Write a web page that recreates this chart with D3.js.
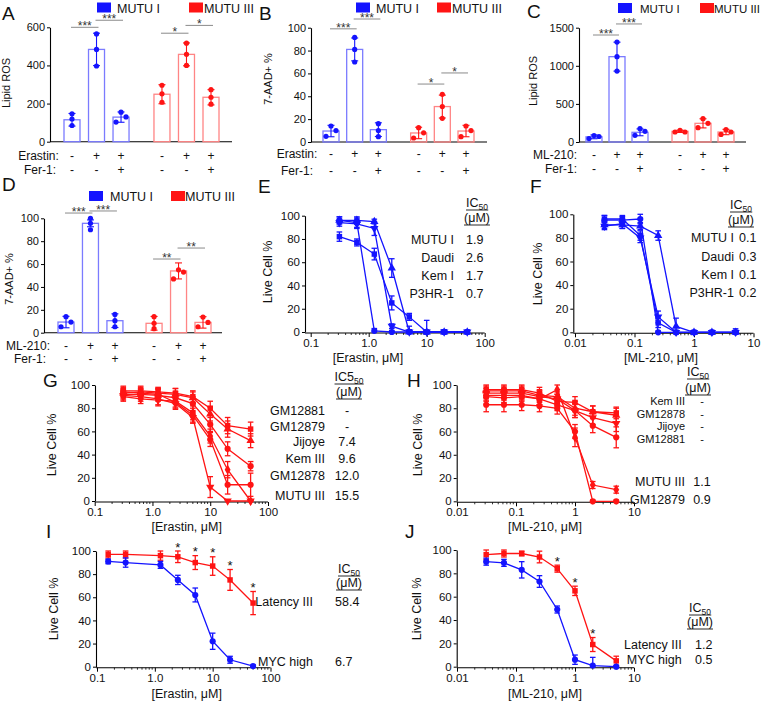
<!DOCTYPE html>
<html><head><meta charset="utf-8">
<script src="https://cdn.jsdelivr.net/npm/d3@7/dist/d3.min.js"></script>
<style>html,body{margin:0;padding:0;background:#fff;} svg{display:block}</style>
</head><body>
<svg id="fig" width="761" height="704"></svg>
<script>
// ---------------- DATA ----------------
const groups = ["MUTU I", "MUTU III"];
const drugSign = ["-", "+", "+", "-", "+", "+"];
const ferSign = ["-", "-", "+", "-", "-", "+"];

// A: Lipid ROS, Erastin
const aMean = [115, 484, 129, 249, 458, 233];
const aErr = [33, 85, 27, 50, 60, 40];
const aPts = [[146,119,85],[565,484,397],[155,130,103],[296,251,207],[517,458,400],[273,233,197]];
const aSig = [[0,1,"***",600],[1,2,"***",637],[3,4,"*",569],[4,5,"*",610]];
const aTicks = [0,200,400,600];
// B: 7-AAD+ %, Erastin
const bMean = [9.6, 81, 10.8, 7.9, 31, 9.6];
const bErr = [5, 10, 6, 5, 10, 5];
const bPts = [[14,10,5],[91.5,81,70],[16,10,4.7],[12.5,8,3.5],[41.7,31,20.7],[14,10,4.7]];
const bSig = [[0,1,"***",99],[1,2,"***",107.6],[3,4,"*",50.7],[4,5,"*",60.4]];
const pctTicks = [0,20,40,60,80,100];
// C: Lipid ROS, ML-210
const cMean = [68, 1120, 127, 140, 245, 131];
const cErr = [25, 190, 45, 15, 60, 35];
const cPts = [[85,45,72],[1312,1120,931],[175,140,87],[153,131,131],[306,245,188],[162,100,131]];
const cSig = [[0,1,"***",1404],[1,2,"***",1549]];
const cTicks = [0,500,1000,1500];
// D: 7-AAD+ %, ML-210
const dMean = [9.3, 95.6, 10.5, 8.2, 54, 9];
const dErr = [5, 3, 6, 6, 7, 5];
const dPts = [[14,9.3,5.2],[100,95.6,90],[16,10.5,5.2],[14,8.2,3.5],[55,53,47],[13.7,9,5.2]];
const dSig = [[0,1,"***",104.6],[1,2,"***",106.4],[3,4,"**",64.4],[4,5,"**",74]];

// Dose-response concentrations (µM)
const concErastin = [0.3125, 0.625, 1.25, 2.5, 5, 10, 20, 50];
const concML210 = [0.03125, 0.0625, 0.125, 0.25, 0.5, 1, 2, 5];
const concErastinI = [0.15625, 0.3125, 1.25, 2.5, 5, 10, 20, 50];
const ticksA = [0.1, 1, 10, 100], ticksALabels = ["0.1", "1.0", "10", "100"];
const ticksB = [0.01, 0.1, 1, 10], ticksBLabels = ["0.01", "0.1", "1", "10"];

// E (latency I, Erastin)
const eNames = ["MUTU I", "Daudi", "Kem I", "P3HR-1"];
const eIC50 = ["1.9", "2.6", "1.7", "0.7"];
const eVals = [[82,77,67,25,13,0,0,0],[96,96,95,55,0,0,0,0],[94,93,89,5,0,0,0,0],[96,94,1,0,0,0,0,0]];
const eErr = [[4,3,5,6,3,10,2,1],[3,3,2,8,2,1,1,1],[3,4,6,2,5,1,1,1],[3,4,2,1,1,1,1,1]];
// F (latency I, ML-210)
const fNames = ["MUTU I", "Daudi", "Kem I", "P3HR-1"];
const fIC50 = ["0.1", "0.3", "0.1", "0.2"];
const fVals = [[96,96,82,8,0,0,0,0],[91,91,90,82,5,0,0,0],[90,92,80,13,0,0,0,0],[95,95,96,0,0,0,0,0]];
const fErr = [[3,3,4,4,1,1,1,1],[3,3,3,4,7,1,1,1],[3,4,4,5,1,1,1,1],[4,3,4,1,1,1,1,3]];
// G (latency III, Erastin)
const gNames = ["GM12881", "GM12879", "Jijoye", "Kem III", "GM12878", "MUTU III"];
const gIC50 = ["-", "-", "7.4", "9.6", "12.0", "15.5"];
const gVals = [[95,95,94,93,90,80,65,62],[93,94,93,92,89,75,62,52],[91,90,88,84,72,12,0,0],[92,92,91,89,84,66,45,30],[90,88,87,86,76,56,27,0],[94,93,92,85,74,53,14,14]];
const gErr = [[4,4,4,4,5,6,7,6],[4,4,4,5,5,6,7,6],[4,4,5,5,5,9,1,1],[4,4,5,5,6,6,6,4],[4,4,5,5,6,6,7,1],[4,4,5,5,6,6,8,10]];
// H (latency III, ML-210)
const hNames = ["Kem III", "GM12878", "Jijoye", "GM12881", "MUTU III", "GM12879"];
const hIC50 = ["-", "-", "-", "-", "1.1", "0.9"];
const hVals = [[96,96,96,93,86,85,77,76],[95,95,95,91,90,80,77,74],[93,93,93,90,88,78,72,67],[90,89,90,88,83,78,65,55],[91,91,91,88,96,55,14,10],[83,83,83,82,80,60,0,0]];
const hErr = [[4,4,4,5,4,5,5,5],[4,4,4,5,4,6,5,6],[4,4,4,5,4,6,6,7],[4,4,4,5,5,6,6,9],[4,4,4,5,4,8,3,3],[6,6,5,5,5,6,1,1]];
// I (Erastin, pooled)
const iNames = ["Latency III", "MYC high"];
const iIC50 = ["58.4", "6.7"];
const iVals = [[97,97,96,95,90,87,75,55],[91,90,88,75,62,22,6,0.5]];
const iErr = [[3,3,4,5,6,8,9,10],[2,4,3,4,6,7,3,1]];
const iStars = [3,4,5,6,7];
// J (ML-210, pooled)
const jNames = ["Latency III", "MYC high"];
const jIC50 = ["1.2", "0.5"];
const jVals = [[96,97,97,94,84,65,19,5],[90,89,83,73,49,6,1,0]];
const jErr = [[4,3,2,5,3,4,6,4],[3,3,7,5,3,4,7,1]];
const jStars = [4,5,6];

// ---------------- RENDER ----------------
const svg = d3.select("#fig");
const FONT = "'Liberation Sans', Arial, Helvetica, sans-serif";
svg.attr("font-family", FONT);
const BLUE = "#1414ff", RED = "#ff1414", BLUE_L = "#7b7bff", RED_L = "#ff8585", SIG = "#8a8a8a", INK = "#111";

function txt(g, x, y, s, size, anchor) {
  return g.append("text").attr("x", x).attr("y", y).attr("font-size", size)
    .attr("text-anchor", anchor || "start").attr("fill", INK).text(s);
}
function styleAxis(sel, fs) {
  sel.select(".domain").attr("stroke", "#000").attr("stroke-width", 1.1);
  sel.selectAll(".tick line").attr("stroke", "#000").attr("stroke-width", 1);
  sel.selectAll(".tick text").attr("font-size", fs).attr("font-family", FONT).attr("fill", INK);
}
function yLabel(g, cx, cy, s, size) {
  g.append("text").attr("transform", `translate(${cx + size * 0.36},${cy}) rotate(-90)`)
    .attr("text-anchor", "middle").attr("font-size", size).attr("fill", INK).text(s);
}

function barPanel(o) {
  const g = svg.append("g");
  const y = d3.scaleLinear().domain([0, o.max]).range([o.y0, o.y1]);
  const x = d3.scaleLinear().domain([0, 5 + o.gap]).range([o.c0, o.c5]);
  const slot = i => x(i + (i >= 3 ? o.gap : 0));
  g.append("g").attr("transform", `translate(${o.ax},0)`)
    .call(d3.axisLeft(y).tickValues(o.ticks).tickFormat(d3.format("d")).tickSize(3).tickSizeOuter(0).tickPadding(2))
    .call(s => styleAxis(s, 11));
  g.append("line").attr("x1", o.ax).attr("x2", o.axEnd).attr("y1", y(0)).attr("y2", y(0))
    .attr("stroke", "#000").attr("stroke-width", 1.1);
  const bw = 16;
  o.mean.forEach((m, i) => {
    const cx = slot(i), dark = i < 3 ? BLUE : RED, light = i < 3 ? BLUE_L : RED_L;
    g.append("rect").attr("x", cx - bw / 2).attr("y", y(m)).attr("width", bw).attr("height", y(0) - y(m))
      .attr("fill", "none").attr("stroke", light).attr("stroke-width", 1.3);
    const e = o.err[i], yt = y(m + e), yb = y(Math.max(0, m - e));
    g.append("line").attr("x1", cx).attr("x2", cx).attr("y1", yt).attr("y2", yb).attr("stroke", dark).attr("stroke-width", 1.1);
    [yt, yb].forEach(yy => g.append("line").attr("x1", cx - 3.5).attr("x2", cx + 3.5).attr("y1", yy).attr("y2", yy).attr("stroke", dark).attr("stroke-width", 1.1));
    const pts = o.pts[i].slice().sort((a, b) => b - a);
    const spread = (y(pts[pts.length - 1]) - y(pts[0])) < 11;
    const offs = spread ? [0, 5, -5] : [0, 0, 0];
    pts.forEach((v, k) => g.append("circle").attr("cx", cx + offs[k]).attr("cy", y(v)).attr("r", 2.6).attr("fill", dark));
  });
  // significance
  o.sig.forEach(([a, b, s, v]) => {
    const x1 = slot(a) - 1, x2 = slot(b) + 2, yy = y(v);
    g.append("line").attr("x1", x1).attr("x2", x2).attr("y1", yy).attr("y2", yy).attr("stroke", SIG).attr("stroke-width", 1);
    g.append("text").attr("x", (x1 + x2) / 2).attr("y", yy + 3).attr("text-anchor", "middle")
      .attr("font-size", 12).attr("fill", "#333").text(s);
  });
  // treatment rows
  o.rows.forEach(r => {
    txt(g, r.lx, r.y + 4.5, r.name, 12, r.anchor);
    r.signs.forEach((s, i) => txt(g, slot(i), r.y + 4.5, s, 12, "middle"));
  });
  // legend
  groups.forEach((name, k) => {
    const lx = o.leg[k];
    g.append("rect").attr("x", lx).attr("y", o.legY).attr("width", 14).attr("height", 10).attr("fill", k === 0 ? BLUE : RED);
    txt(g, lx + o.legGap[k], o.legY + 10, name, o.legFont || 12.5, "start");
  });
  yLabel(g, o.ylx, o.yly, o.ylab, 11);
  txt(g, o.tx, o.ty, o.title, 19, "start");
}

const SHAPES = [
  {t: d3.symbolSquare, rot: false}, {t: d3.symbolTriangle, rot: false},
  {t: d3.symbolTriangle, rot: true}, {t: d3.symbolCircle, rot: false},
  {t: d3.symbolDiamond, rot: false}, {t: d3.symbolCircle, rot: false}
];

function curvePanel(o) {
  const g = svg.append("g");
  const x = d3.scaleLog().domain(o.xdom).range(o.xr);
  const y = d3.scaleLinear().domain([0, 100]).range([o.y0, o.y1]);
  g.append("g").attr("transform", `translate(${o.ax},0)`)
    .call(d3.axisLeft(y).tickValues(pctTicks).tickSize(3).tickSizeOuter(0).tickPadding(2))
    .call(s => styleAxis(s, 11.5));
  const xg = g.append("g").attr("transform", `translate(0,${o.y0 + 1})`)
    .call(d3.axisBottom(x).tickValues(o.xticks).tickFormat((d, i) => o.xlabels[i]).tickSize(4).tickSizeOuter(0).tickPadding(2));
  styleAxis(xg, 11.5);
  xg.select(".domain").remove();
  g.append("line").attr("x1", o.ax).attr("x2", x(o.xdom[1])).attr("y1", o.y0 + 1).attr("y2", o.y0 + 1)
    .attr("stroke", "#000").attr("stroke-width", 1.1);
  const minors = [];
  for (let d = o.xdom[0]; d < o.xdom[1] * 0.999; d *= 10) for (let k = 2; k <= 9; k++) minors.push(d * k);
  g.selectAll(null).data(minors).join("line")
    .attr("x1", d => x(d)).attr("x2", d => x(d)).attr("y1", o.y0 + 1).attr("y2", o.y0 + 3)
    .attr("stroke", "#000").attr("stroke-width", 0.8);
  o.series.forEach((s, si) => {
    const pts = o.conc.map((c, i) => ({c, v: s.vals[i], e: s.err[i]}));
    g.append("path").datum(pts).attr("d", d3.line().x(d => x(d.c)).y(d => y(d.v)))
      .attr("fill", "none").attr("stroke", s.color).attr("stroke-width", 1.3);
    pts.forEach(d => {
      const yt = y(d.v + d.e), yb = y(Math.max(0, d.v - d.e)), cx = x(d.c);
      g.append("line").attr("x1", cx).attr("x2", cx).attr("y1", yt).attr("y2", yb).attr("stroke", s.color).attr("stroke-width", 1.3);
      [yt, yb].forEach(yy => g.append("line").attr("x1", cx - 2.8).attr("x2", cx + 2.8).attr("y1", yy).attr("y2", yy).attr("stroke", s.color).attr("stroke-width", 1.3));
    });
    const sh = s.shape;
    g.selectAll(null).data(pts).join("path")
      .attr("transform", d => `translate(${x(d.c)},${y(d.v)})${sh.rot ? " rotate(180)" : ""}`)
      .attr("d", d3.symbol(sh.t, 30)).attr("fill", s.color);
    if (s.stars) s.stars.forEach(i => {
      g.append("text").attr("x", x(o.conc[i])).attr("y", y(s.vals[i] + s.err[i]) + 0.5)
        .attr("text-anchor", "middle").attr("font-size", 13).attr("fill", INK).text("*");
    });
  });
  // IC50 table
  const t = o.tab, fs = t.fs || 12.5;
  const h = g.append("text").attr("x", t.hx).attr("y", t.hy).attr("text-anchor", "middle").attr("font-size", 12.5).attr("fill", INK);
  h.append("tspan").text(t.headMain);
  h.append("tspan").attr("font-size", 8.5).attr("dy", 2.5).text("50");
  const h2 = txt(g, t.hx, t.hy + t.hgap, "(μM)", 12.5, "middle");
  [h, h2].forEach((el, k) => {
    const bb = el.node().getBBox();
    const uy = (k === 0 ? t.hy : t.hy + t.hgap) + 3;
    g.append("line").attr("x1", bb.x).attr("x2", bb.x + bb.width).attr("y1", uy).attr("y2", uy).attr("stroke", INK).attr("stroke-width", 0.9);
  });
  t.names.forEach((n, i) => {
    const f = (t.fsRows && t.fsRows[i]) || fs;
    txt(g, t.nameX, t.rowY[i], n, f, "end");
    txt(g, t.valX, t.rowY[i], t.vals[i], f, t.valAnchor);
  });
  yLabel(g, o.ylx, o.yly, "Live Cell %", 12.5);
  txt(g, o.xlx, o.xly, o.xlab, 12.5, "middle");
  txt(g, o.tx, o.ty, o.title, 19, "start");
}

// ----- bar panels -----
barPanel({title: "A", tx: 2, ty: 20, max: 600, ticks: aTicks, y0: 141.7, y1: 27.3, ax: 50, axEnd: 232,
  c0: 72, c5: 211, gap: 0.67, mean: aMean, err: aErr, pts: aPts, sig: aSig,
  rows: [{name: "Erastin:", signs: drugSign, y: 155, lx: 38.5, anchor: "middle"},
         {name: "Fer-1:", signs: ferSign, y: 169.5, lx: 40, anchor: "middle"}],
  leg: [97, 189], legGap: [20, 15], legY: 2.5, ylab: "Lipid ROS", ylx: 6, yly: 83});
barPanel({title: "B", tx: 259, ty: 20, max: 100, ticks: pctTicks, y0: 142, y1: 27.7, ax: 311, axEnd: 487,
  c0: 331, c5: 466, gap: 0.7, mean: bMean, err: bErr, pts: bPts, sig: bSig,
  rows: [{name: "Erastin:", signs: drugSign, y: 153.5, lx: 297, anchor: "middle"},
         {name: "Fer-1:", signs: ferSign, y: 170, lx: 297, anchor: "middle"}],
  leg: [356, 437], legGap: [20, 15], legY: 2.5, ylab: "7-AAD+ %", ylx: 268, yly: 79});
barPanel({title: "C", tx: 527, ty: 18, max: 1500, ticks: cTicks, y0: 142, y1: 27.7, ax: 579, axEnd: 746,
  c0: 594, c5: 726, gap: 0.74, mean: cMean, err: cErr, pts: cPts, sig: cSig,
  rows: [{name: "ML-210:", signs: drugSign, y: 154, lx: 577, anchor: "end"},
         {name: "Fer-1:", signs: ferSign, y: 168.5, lx: 577, anchor: "end"}],
  leg: [618, 700], legGap: [22, 14], legY: 3, legFont: 11.5, ylab: "Lipid ROS", ylx: 533, yly: 81});
barPanel({title: "D", tx: 2, ty: 191, max: 100, ticks: pctTicks, y0: 332.7, y1: 218.3, ax: 44, axEnd: 222,
  c0: 66, c5: 203, gap: 0.6, mean: dMean, err: dErr, pts: dPts, sig: dSig,
  rows: [{name: "ML-210:", signs: drugSign, y: 345, lx: 28, anchor: "middle"},
         {name: "Fer-1:", signs: ferSign, y: 358.5, lx: 30, anchor: "middle"}],
  leg: [89, 171], legGap: [21, 14], legY: 191, ylab: "7-AAD+ %", ylx: 9, yly: 279});

// ----- curve panels -----
const mk = (vals, err, colors, stars) => vals.map((v, i) => ({vals: v, err: err[i], color: colors[i], shape: SHAPES[i], stars: stars ? stars[i] : null}));

curvePanel({title: "E", tx: 258, ty: 193, xdom: [0.1, 100], xr: [310.7, 484.7], ax: 305, y0: 332, y1: 215.7,
  xticks: ticksA, xlabels: ticksALabels, conc: concErastin,
  series: mk(eVals, eErr, [BLUE, BLUE, BLUE, BLUE]),
  tab: {headMain: "IC", hx: 477, hy: 207, hgap: 15, names: eNames, vals: eIC50, nameX: 454, valX: 466, valAnchor: "start",
        rowY: [244, 262, 280, 298]},
  ylx: 267, yly: 272, xlab: "[Erastin, μM]", xlx: 368, xly: 362});
curvePanel({title: "F", tx: 530, ty: 193, xdom: [0.01, 10], xr: [575, 753.5], ax: 573.3, y0: 332.3, y1: 214.3,
  xticks: ticksB, xlabels: ticksBLabels, conc: concML210,
  series: mk(fVals, fErr, [BLUE, BLUE, BLUE, BLUE]),
  tab: {headMain: "IC", hx: 741, hy: 209, hgap: 15, names: fNames, vals: fIC50, nameX: 734, valX: 739, valAnchor: "start",
        rowY: [242, 261, 279, 297]},
  ylx: 537.5, yly: 274, xlab: "[ML-210, μM]", xlx: 661, xly: 362});
curvePanel({title: "G", tx: 43, ty: 387, xdom: [0.1, 100], xr: [94.7, 268], ax: 95, y0: 501, y1: 385,
  xticks: ticksA, xlabels: ticksALabels, conc: concErastin,
  series: mk(gVals, gErr, [RED, RED, RED, RED, RED, RED]),
  tab: {headMain: "IC5", hx: 349, hy: 381, hgap: 15, names: gNames, vals: gIC50, nameX: 325, valX: 347, valAnchor: "middle",
        rowY: [415, 431, 446, 462.5, 480, 500]},
  ylx: 51.5, yly: 445, xlab: "[Erastin, μM]", xlx: 186.7, xly: 531});
curvePanel({title: "H", tx: 407, ty: 387, xdom: [0.01, 10], xr: [457, 634], ax: 456.7, y0: 501.3, y1: 385,
  xticks: ticksB, xlabels: ticksBLabels, conc: concML210,
  series: mk(hVals, hErr, [RED, RED, RED, RED, RED, RED]),
  tab: {headMain: "IC", hx: 698, hy: 376, hgap: 16, names: hNames, vals: hIC50, nameX: 685, valX: 702, valAnchor: "middle",
        fsRows: [11, 11, 11, 11, 12.5, 12.5], rowY: [405, 417.5, 430, 442.5, 486, 504]},
  ylx: 417, yly: 445, xlab: "[ML-210, μM]", xlx: 545, xly: 531});
curvePanel({title: "I", tx: 46, ty: 538, xdom: [0.1, 100], xr: [97, 270.5], ax: 96, y0: 666.7, y1: 551,
  xticks: ticksA, xlabels: ticksALabels, conc: concErastinI,
  series: [{vals: iVals[0], err: iErr[0], color: RED, shape: SHAPES[0], stars: iStars},
           {vals: iVals[1], err: iErr[1], color: BLUE, shape: SHAPES[3]}],
  tab: {headMain: "IC", hx: 349, hy: 573, hgap: 14, names: iNames, vals: iIC50, nameX: 313, valX: 335, valAnchor: "start",
        rowY: [606, 666]},
  ylx: 53, yly: 609, xlab: "[Erastin, μM]", xlx: 186.7, xly: 698});
curvePanel({title: "J", tx: 405, ty: 538, xdom: [0.01, 10], xr: [457, 634], ax: 456.7, y0: 666.7, y1: 550,
  xticks: ticksB, xlabels: ticksBLabels, conc: concML210,
  series: [{vals: jVals[0], err: jErr[0], color: RED, shape: SHAPES[0], stars: jStars},
           {vals: jVals[1], err: jErr[1], color: BLUE, shape: SHAPES[3]}],
  tab: {headMain: "IC", hx: 700, hy: 612, hgap: 14, names: jNames, vals: jIC50, nameX: 681.7, valX: 695, valAnchor: "start",
        rowY: [649, 664]},
  ylx: 416.7, yly: 609, xlab: "[ML-210, μM]", xlx: 545, xly: 698});
</script>
</body></html>
